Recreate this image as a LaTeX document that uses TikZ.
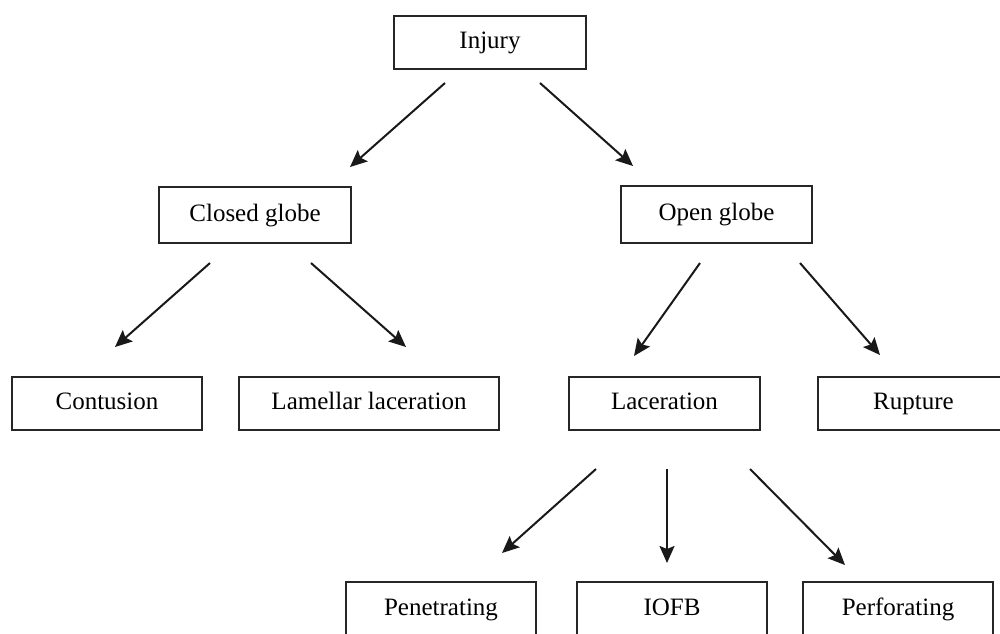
\documentclass[tikz,border=0pt]{standalone}
\usepackage{fontspec}
\setmainfont{Liberation Serif}
\usetikzlibrary{arrows.meta}
\begin{document}
\begin{tikzpicture}[x=1pt,y=-1pt,
  box/.style={draw=black!85, line width=1.8pt, inner sep=0pt, minimum height=53pt,
              text height=17.5pt, text depth=5.5pt,
              font=\fontsize{25}{30}\selectfont},
  arr/.style={draw=black!90, line width=2pt, -{Stealth[length=17pt,width=15pt,inset=3pt]}}]
\useasboundingbox (0,0) rectangle (1000,633);
\clip (0,0) rectangle (1000,633);
% nodes
\node[box, minimum width=192pt] (injury) at (490,42.5) {Injury};
\node[box, minimum width=192pt, minimum height=56pt] (closed) at (255,215) {Closed globe};
\node[box, minimum width=191pt, minimum height=57pt] (open) at (716.5,214.5) {Open globe};
\node[box, minimum width=190pt] (contusion) at (107,403.5) {Contusion};
\node[box, minimum width=260pt] (lamellar) at (369,403.5) {Lamellar laceration};
\node[box, minimum width=191pt] (laceration) at (664.5,403.5) {Laceration};
\node[box, minimum width=191pt] (rupture) at (913.5,403.5) {Rupture};
\node[box, minimum width=190pt, minimum height=54pt] (penetrating) at (441,609) {Penetrating};
\node[box, minimum width=190pt, minimum height=54pt] (iofb) at (672,609) {IOFB};
\node[box, minimum width=190pt, minimum height=54pt] (perforating) at (898,609) {Perforating};
% connector end points
\coordinate (s1) at (445,83);  \coordinate (e1) at (350,167);
\coordinate (s2) at (540,83);  \coordinate (e2) at (633,166);
\coordinate (s3) at (210,263); \coordinate (e3) at (115,347);
\coordinate (s4) at (311,263); \coordinate (e4) at (406,347);
\coordinate (s5) at (700,263); \coordinate (e5) at (634,356);
\coordinate (s6) at (800,263); \coordinate (e6) at (880,355);
\coordinate (s7) at (596,469); \coordinate (e7) at (502,553);
\coordinate (s8) at (667,469); \coordinate (e8) at (667,563);
\coordinate (s9) at (750,469); \coordinate (e9) at (845,565);
% connectors
\draw[arr] (s1) -- (e1);
\draw[arr] (s2) -- (e2);
\draw[arr] (s3) -- (e3);
\draw[arr] (s4) -- (e4);
\draw[arr] (s5) -- (e5);
\draw[arr] (s6) -- (e6);
\draw[arr] (s7) -- (e7);
\draw[arr] (s8) -- (e8);
\draw[arr] (s9) -- (e9);
\end{tikzpicture}
\end{document}
